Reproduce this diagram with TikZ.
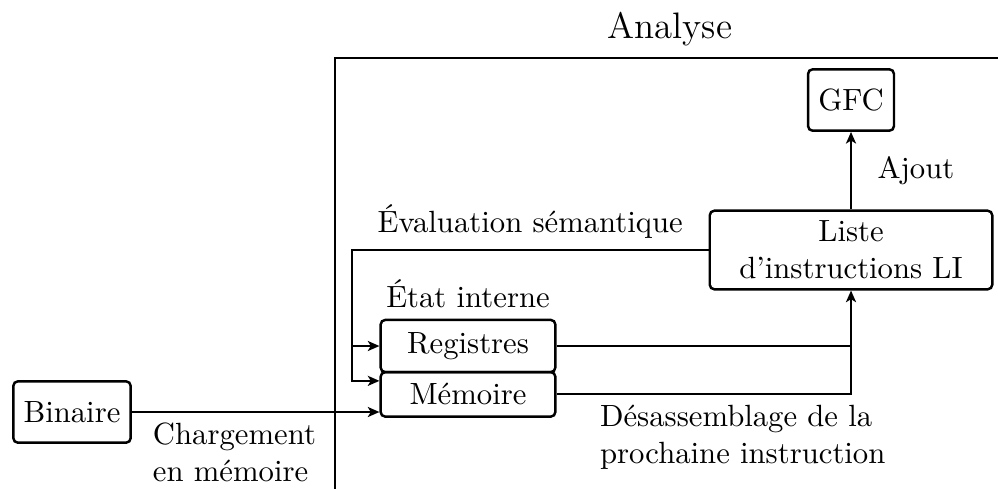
\documentclass[tikz,border=0pt]{standalone}
\usepackage{tikz}
\usetikzlibrary{positioning, arrows.meta}
\tikzset{
>={Stealth[length=3.8pt, width=3.3pt, inset=1pt]}, % arrow tips of the connectors
bloc/.style={draw, thick, rounded corners=1.5pt, minimum height=20pt}, % boxes of the diagram
lien/.style={semithick}, % connectors between boxes
cadre/.style={draw, semithick, minimum width=218.2pt, minimum height=150pt}, % frame of the analysis part
}

\begin{document}
\begin{tikzpicture}[x=0.3257pt, y=-0.3257pt]
    \path[use as bounding box, clip] (0,0) rectangle (998,488);
    \node[cadre, anchor=north west, label={above:{\large Analyse}}] (analyse) at (334,57) {};
    \node[bloc] (binaire) at (72,412) {Binaire};
    \node[bloc, minimum width=2cm, minimum height=17pt, label={above:État interne}] (registres) at (468,346) {Registres};
    \node[bloc, minimum width=2cm, minimum height=14.5pt, below=-0.8pt of registres] (memoire) {Mémoire};
    \node[bloc, text width=3cm, align=center, minimum height=0pt] (liste) at (851,250) {Liste\\d’instructions LI};
    \node[bloc] (gfc) at (851,100) {GFC};
    \coordinate (retour) at (352,250);

    \draw[lien, ->] (binaire) -- (binaire -| memoire.west)
        node[pos=.04, below right, align=left] {Chargement\\en mémoire};
    \draw[lien, ->] (liste.west) -- node[above] {Évaluation sémantique} (retour) |- (registres.west);
    \draw[lien, ->] (retour) |- ([yshift=4.4pt]memoire.west);
    \draw[lien] (registres.east) -- (registres.east -| liste.south);
    \draw[lien, ->] (memoire.east) -- node[pos=.11, below right, align=left] {Désassemblage de la\\prochaine instruction} (memoire.east -| liste.south) -- (liste.south);
    \draw[lien, ->] (liste) -- node[right=5pt] {Ajout} (gfc);
\end{tikzpicture}
\end{document}
